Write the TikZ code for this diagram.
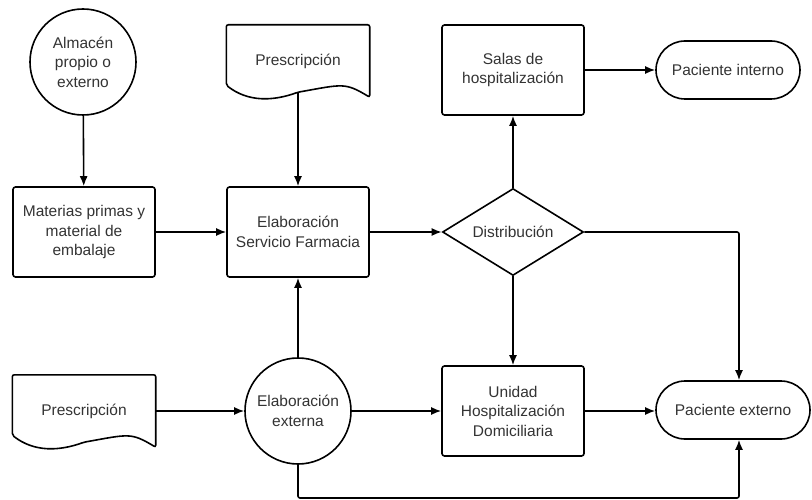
\documentclass[tikz,border=0pt]{standalone}
\usepackage{fontspec}
\setmainfont{Liberation Sans}
\usepackage{tikz}
\usetikzlibrary{arrows.meta, positioning, calc, shapes.geometric}

\begin{document}
\begin{tikzpicture}[x=1pt, y=-1pt]
    % Define styles
    \tikzset{
        base/.style={draw, line width=1.6pt, text=black!80, font=\fontsize{15.5}{19.5}\selectfont, align=center, inner sep=2pt},
        proc/.style={base, rectangle, rounded corners=2.5pt, minimum width=142pt, minimum height=90pt},
        store/.style={base, circle, minimum size=106pt},
        term/.style={base, rectangle, rounded corners=29pt, minimum height=58pt},
        decision/.style={base, diamond, inner sep=0pt, aspect=1.6, minimum width=141pt, minimum height=87pt},
        doc/.style={rectangle, minimum width=143pt, minimum height=72pt, text=black!80, font=\fontsize{15.5}{19.5}\selectfont, inner sep=0pt},
        docline/.style={line width=1.6pt, rounded corners=2pt},
        flow/.style={line width=1.6pt, rounded corners=2pt, -{Latex[length=10pt, width=8pt]}}
    }
    \useasboundingbox (0,0) rectangle (812,500);

    % Nodes
    \node[store] (alm) at (83,62) {Almacén\\propio o\\externo};
    \node[proc] (mat) at (84,232) {Materias primas y\\material de\\embalaje};
    \node[doc] (pr1) at (298,61) {Prescripción};
    \node[proc] (esf) at (298,232) {Elaboración\\Servicio Farmacia};
    \node[proc] (sal) at (513,70) {Salas de\\hospitalización};
    \node[term, minimum width=144pt] (pin) at (728,70) {Paciente interno};
    \node[decision] (dis) at (513,232) {Distribución};
    \node[doc] (pr2) at (84,411) {Prescripción};
    \node[store] (eex) at (298,411) {Elaboración\\externa};
    \node[proc] (uhd) at (513,411) {Unidad\\Hospitalización\\Domiciliaria};
    \node[term, minimum width=154pt] (pex) at (733,410) {Paciente externo};

    % Document outlines
    \foreach \d in {pr1, pr2} {
        \draw[docline] ([yshift=12pt]\d.south west) -- (\d.north west) -- (\d.north east) -- (\d.south east)
            .. controls ([xshift=-25pt, yshift=15pt]\d.south east) and ([xshift=45pt, yshift=13pt]\d.south) .. ([yshift=5pt]\d.south)
            .. controls ([xshift=-25pt, yshift=-4pt]\d.south) and ([xshift=-50pt, yshift=-5pt]\d.south) .. cycle;
    }

    % Connectors
    \draw[flow] (alm) -- (mat);
    \draw[flow] ([yshift=5pt]pr1.south) -- (esf);
    \draw[flow] (mat) -- (esf);
    \draw[flow] (esf) -- (dis);
    \draw[flow] (dis) -- (sal);
    \draw[flow] (sal) -- (pin);
    \draw[flow] (dis) -- (uhd);
    \draw[flow] (dis.east) -| ([xshift=6pt]pex.north);
    \draw[flow] (pr2) -- (eex);
    \draw[flow] (eex) -- (esf);
    \draw[flow] (eex) -- (uhd);
    \draw[flow] (uhd.east) -- (uhd.east -| pex.west);
    \coordinate (low) at (298,498);
    \draw[flow] (eex.south) -- (low) -| ([xshift=6pt]pex.south);
\end{tikzpicture}
\end{document}
